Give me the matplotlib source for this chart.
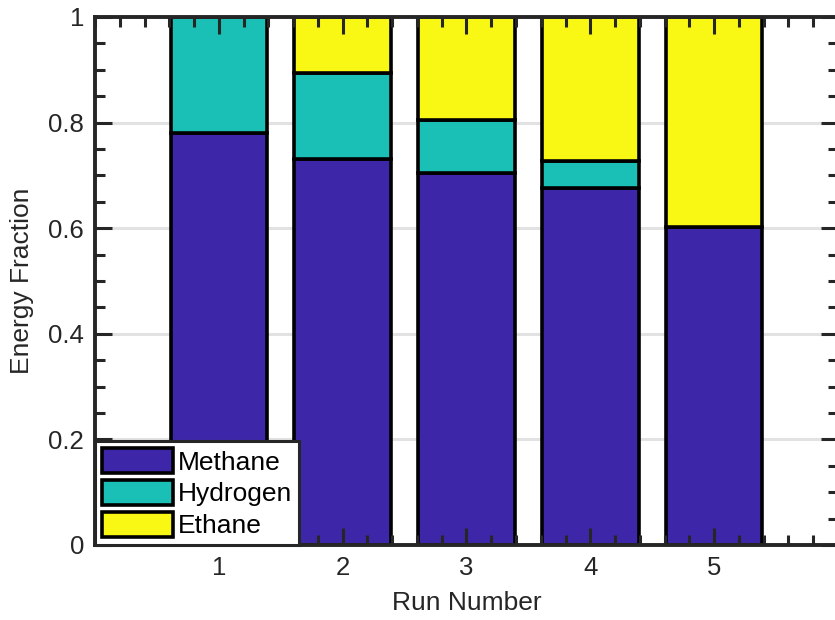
import matplotlib.pyplot as plt
from matplotlib.ticker import MultipleLocator, FormatStrFormatter
import numpy as np

plt.rcParams['font.family'] = ['Liberation Sans', 'DejaVu Sans']

runs = [1, 2, 3, 4, 5]
methane = [0.781, 0.732, 0.704, 0.676, 0.602]
hydrogen = [0.219, 0.162, 0.101, 0.052, 0.0]
ethane = [0.0, 0.106, 0.195, 0.272, 0.398]
names = ['Methane', 'Hydrogen', 'Ethane']
colors = ['#3e26a8', '#1abfb5', '#f8f814']

fig = plt.figure(figsize=(8.35, 6.2), dpi=100)
ax = fig.add_axes([95 / 835, 75 / 620, 743 / 835, 528 / 620])

bottom = np.zeros(len(runs))
for vals, name, col in zip([methane, hydrogen, ethane], names, colors):
    ax.bar(runs, vals, width=0.78, bottom=bottom, color=col, edgecolor='black',
           linewidth=2.6, label=name, zorder=1)
    bottom += np.array(vals)

for yv in [0.2, 0.4, 0.6, 0.8]:
    ax.axhline(yv, color='#e2e2e2', linewidth=2.2, zorder=0.5)

ax.set_axisbelow(False)
ax.set_xlim(0, 6)
ax.set_ylim(0, 1)
ax.set_xticks(runs)
ax.yaxis.set_major_locator(MultipleLocator(0.2))
ax.yaxis.set_minor_locator(MultipleLocator(0.05))
ax.xaxis.set_minor_locator(MultipleLocator(0.2))
ax.yaxis.set_major_formatter(FormatStrFormatter('%g'))
ax.tick_params(which='both', direction='in', top=True, right=True,
               labelsize=18.5, colors='#262626', width=2.2)
ax.tick_params(which='major', length=12, pad=8)
ax.tick_params(which='minor', length=7)
for s in ax.spines.values():
    s.set_linewidth(2.8)
    s.set_color('#262626')

ax.set_xlabel('Run Number', fontsize=19, color='#262626', labelpad=8)
ax.set_ylabel('Energy Fraction', fontsize=19, color='#262626', labelpad=10)

leg = ax.legend(loc='lower left', fontsize=19, fancybox=False, borderaxespad=0,
                handlelength=2.7, handleheight=1.1, handletextpad=0.2,
                labelspacing=0.2, borderpad=0.25, framealpha=1)
leg.get_frame().set_edgecolor('#262626')
leg.get_frame().set_linewidth(2.2)

fig.savefig('out.png', dpi=100)
